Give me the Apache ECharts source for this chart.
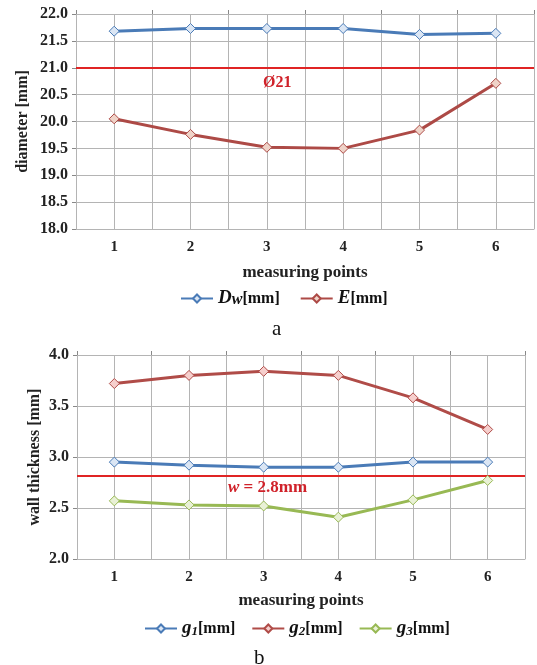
<!DOCTYPE html>
<html>
<head>
<meta charset="utf-8">
<script src="https://cdn.jsdelivr.net/npm/echarts@6/dist/echarts.min.js"></script>
<style>
  html, body { margin: 0; padding: 0; background: #fff; }
  #chart { width: 537px; height: 665px; }
</style>
</head>
<body>
<div id="chart"></div>
<script>
// measuring points
var categories = ['1', '2', '3', '4', '5', '6'];
// (a) diameter [mm]
var dwValues = [21.68, 21.73, 21.73, 21.73, 21.62, 21.64];
var eValues = [20.05, 19.76, 19.52, 19.50, 19.84, 20.71];
var nominalDiameter = 21.0;
// (b) wall thickness [mm]
var g1Values = [2.95, 2.92, 2.90, 2.90, 2.95, 2.95];
var g2Values = [3.72, 3.80, 3.84, 3.80, 3.58, 3.27];
var g3Values = [2.57, 2.53, 2.52, 2.41, 2.58, 2.77];
var nominalWall = 2.82;

var serif = 'Liberation Serif';
var gridGray = '#b4b4b4';

function toPoints(values) {
  return values.map(function (v, i) { return [i + 1, v]; });
}

function valueXAxis(gridIndex, nameGap) {
  return {
    type: 'value', gridIndex: gridIndex,
    min: 0.5, max: 6.5, interval: 0.5,
    name: 'measuring points', nameLocation: 'middle', nameGap: nameGap,
    nameTextStyle: { fontFamily: serif, fontWeight: 'bold', fontSize: 17, color: '#222' },
    axisLine: { lineStyle: { color: gridGray } },
    axisTick: { show: false },
    axisLabel: {
      margin: 11, fontFamily: serif, fontWeight: 'bold', fontSize: 15, color: '#222',
      formatter: function (v) { return Number.isInteger(v) ? String(v) : ''; }
    },
    splitLine: { show: true, lineStyle: { color: gridGray, width: 1 } }
  };
}

function tickXAxis(gridIndex) {
  return {
    type: 'category', gridIndex: gridIndex, data: categories, boundaryGap: true,
    axisLine: { show: false },
    axisTick: { show: true, length: 4, lineStyle: { color: '#888' } },
    axisLabel: { show: false },
    splitLine: { show: false }
  };
}

function yAxisCfg(gridIndex, min, max, name, nameGap) {
  return {
    type: 'value', gridIndex: gridIndex, min: min, max: max, interval: 0.5,
    name: name, nameLocation: 'middle', nameGap: nameGap, nameMoveOverlap: false,
    nameTextStyle: { fontFamily: serif, fontWeight: 'bold', fontSize: 16, color: '#222' },
    axisLine: { show: true, lineStyle: { color: gridGray } },
    axisTick: { show: true, length: 4, lineStyle: { color: '#888' } },
    axisLabel: {
      margin: 8, fontFamily: serif, fontWeight: 'bold', fontSize: 16, color: '#222',
      formatter: function (v) { return v.toFixed(1); }
    },
    splitLine: { show: true, lineStyle: { color: gridGray, width: 1 } }
  };
}

function lineSeries(name, values, xIdx, yIdx, color, fill) {
  return {
    name: name, type: 'line', xAxisIndex: xIdx, yAxisIndex: yIdx,
    data: toPoints(values),
    symbol: 'diamond', symbolSize: 10, z: 5,
    lineStyle: { color: color, width: 3 },
    itemStyle: { color: fill, borderColor: color, borderWidth: 1 }
  };
}

function refLine(value) {
  return {
    silent: true, symbol: 'none',
    lineStyle: { color: '#e02424', width: 2, type: 'solid' },
    label: { show: false },
    data: [{ yAxis: value }]
  };
}

var legendRich = {
  it: { fontFamily: serif, fontStyle: 'italic', fontWeight: 'bold', fontSize: 19, color: '#111' },
  sub: { fontFamily: serif, fontStyle: 'italic', fontWeight: 'bold', fontSize: 13, color: '#111', padding: [7, 0, 0, 0] },
  wsub: { fontFamily: serif, fontStyle: 'italic', fontWeight: 'bold', fontSize: 16, color: '#111', padding: [3, 0, 0, 0] },
  mm: { fontFamily: serif, fontWeight: 'bold', fontSize: 16, color: '#111' }
};

function legendLabel(name) {
  if (name === 'Dw') return '{it|D}{wsub|w}{mm|[mm]}';
  if (name === 'E') return '{it|E}{mm|[mm]}';
  return '{it|g}{sub|' + name.slice(1) + '}{mm|[mm]}';
}

var chart = echarts.init(document.getElementById('chart'), null, { renderer: 'canvas' });

var s1 = lineSeries('Dw', dwValues, 0, 0, '#4a7bb7', '#dbe6f4');
s1.markLine = refLine(nominalDiameter);
var s4 = lineSeries('g1', g1Values, 2, 1, '#4a7bb7', '#dbe6f4');
s4.markLine = refLine(nominalWall);

var option = {
  backgroundColor: '#fff',
  animation: false,
  grid: [
    { left: 76, top: 14, width: 465, height: 215 },
    { left: 77, top: 355, width: 448, height: 204 }
  ],
  xAxis: [valueXAxis(0, 35), tickXAxis(0), valueXAxis(1, 33), tickXAxis(1)],
  yAxis: [
    yAxisCfg(0, 18, 22, 'diameter [mm]', 45),
    yAxisCfg(1, 2, 4, 'wall thickness [mm]', 34)
  ],
  legend: [
    {
      data: ['Dw', 'E'], left: 175, top: 284, itemWidth: 32, itemHeight: 10, itemGap: 20,
      formatter: legendLabel, textStyle: { rich: legendRich }
    },
    {
      data: ['g1', 'g2', 'g3'], left: 139, top: 614, itemWidth: 32, itemHeight: 10, itemGap: 16,
      formatter: legendLabel, textStyle: { rich: legendRich }
    }
  ],
  graphic: [
    { type: 'text', left: 263, top: 75, z: 10,
      style: { text: 'Ø21', fontFamily: serif, fontWeight: 'bold', fontSize: 16, fill: '#d0222a' } },
    { type: 'text', left: 228, top: 479, z: 10,
      style: {
        text: '{w|w}{t| = 2.8mm}',
        rich: {
          w: { fontFamily: serif, fontStyle: 'italic', fontWeight: 'bold', fontSize: 17, fill: '#d0222a' },
          t: { fontFamily: serif, fontWeight: 'bold', fontSize: 17, fill: '#d0222a' }
        }
      } },
    { type: 'text', left: 272, top: 319, style: { text: 'a', fontFamily: serif, fontSize: 21, fill: '#111' } },
    { type: 'text', left: 254, top: 648, style: { text: 'b', fontFamily: serif, fontSize: 21, fill: '#111' } }
  ],
  series: [
    s1,
    lineSeries('E', eValues, 0, 0, '#ad4a46', '#efd3c8'),
    s4,
    lineSeries('g2', g2Values, 2, 1, '#b04c48', '#f6cfcd'),
    lineSeries('g3', g3Values, 2, 1, '#98b954', '#e9f1d6')
  ]
};

chart.setOption(option);
</script>
</body>
</html>
